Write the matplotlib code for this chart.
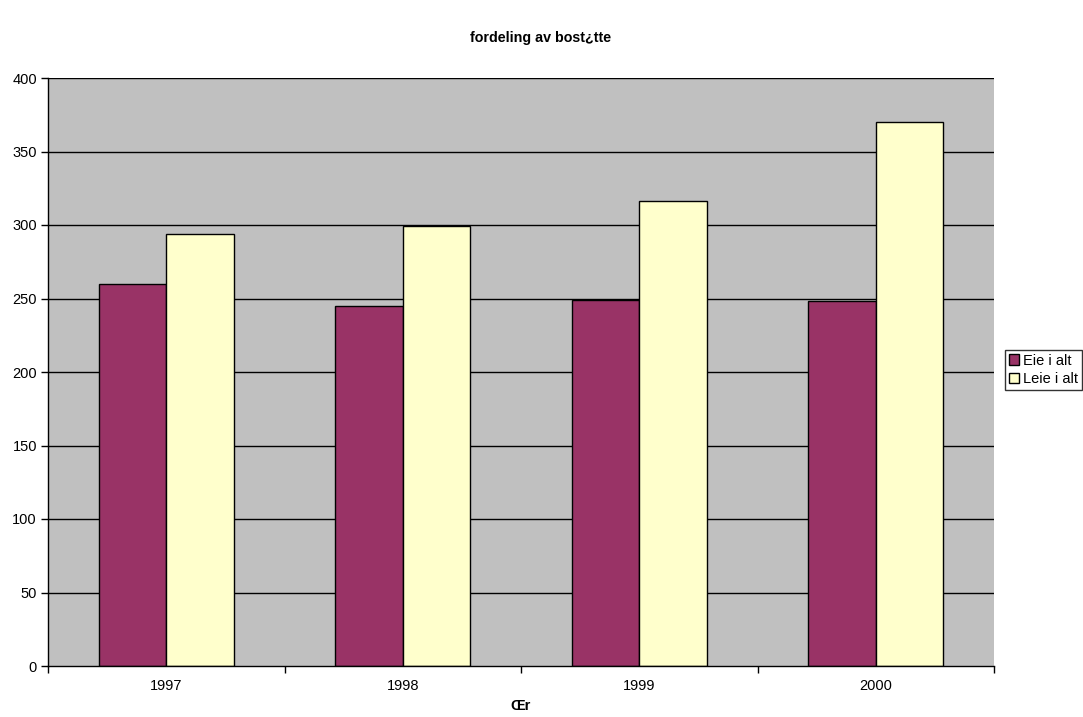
import matplotlib
matplotlib.use("Agg")
import matplotlib.pyplot as plt
import numpy as np
from matplotlib.patches import Patch

plt.rcParams['font.family'] = ['Liberation Sans', 'DejaVu Sans']

years = ['1997', '1998', '1999', '2000']
eie = [260, 245, 249, 248]
leie = [294, 299, 316, 370]
series_names = ['Eie i alt', 'Leie i alt']
colors = ['#993366', '#FFFFCC']
yticks = [0, 50, 100, 150, 200, 250, 300, 350, 400]

fig = plt.figure(figsize=(10.83, 7.17), dpi=100)
ax = fig.add_axes([48 / 1083, 51 / 717, 946 / 1083, 588 / 717])
ax.set_facecolor('#C0C0C0')

x = np.arange(len(years))
w = 0.286
ax.bar(x - w / 2, eie, width=w, color=colors[0], edgecolor='black', linewidth=1.0, zorder=3)
ax.bar(x + w / 2, leie, width=w, color=colors[1], edgecolor='black', linewidth=1.0, zorder=3)

ax.set_xlim(-0.5, len(years) - 0.5)
ax.set_ylim(0, 400)
ax.set_yticks(yticks)
ax.set_yticklabels([str(v) for v in yticks], fontsize=10.5)
for v in yticks[1:]:
    ax.axhline(v, color='black', linewidth=1.0, zorder=1)

ax.set_xticks(np.arange(-0.5, len(years), 1.0))
ax.set_xticklabels([])
ax.set_xticks(x, minor=True)
ax.set_xticklabels(years, minor=True, fontsize=10.5)
ax.tick_params(axis='x', which='major', direction='out', length=5, width=1, color='black')
ax.tick_params(axis='x', which='minor', length=0, pad=9)
ax.tick_params(axis='y', direction='out', length=5, width=1, color='black', pad=3)

for s in ['top', 'right']:
    ax.spines[s].set_visible(False)
for s in ['left', 'bottom']:
    ax.spines[s].set_color('black')
    ax.spines[s].set_linewidth(1.0)
    ax.spines[s].set_zorder(4)

ax.set_xlabel('Œr', fontsize=10.5, fontweight='bold', labelpad=5)

fig.text(541 / 1083, 1 - 38 / 717, 'fordeling av bost¿tte', ha='center', va='center',
         fontsize=10.3, fontweight='bold')

handles = [Patch(facecolor=c, edgecolor='black', linewidth=1.0) for c in colors]
leg = fig.legend(handles, series_names, loc='upper left',
                 bbox_to_anchor=(1005 / 1083, 1 - 350 / 717), fontsize=10.5,
                 frameon=True, fancybox=False, shadow=False,
                 handlelength=0.7, handleheight=0.7, handletextpad=0.3,
                 borderpad=0.25, labelspacing=0.3, borderaxespad=0)
leg.get_frame().set_edgecolor('black')
leg.get_frame().set_linewidth(1.0)

fig.savefig('out.png', dpi=100, facecolor='white')
